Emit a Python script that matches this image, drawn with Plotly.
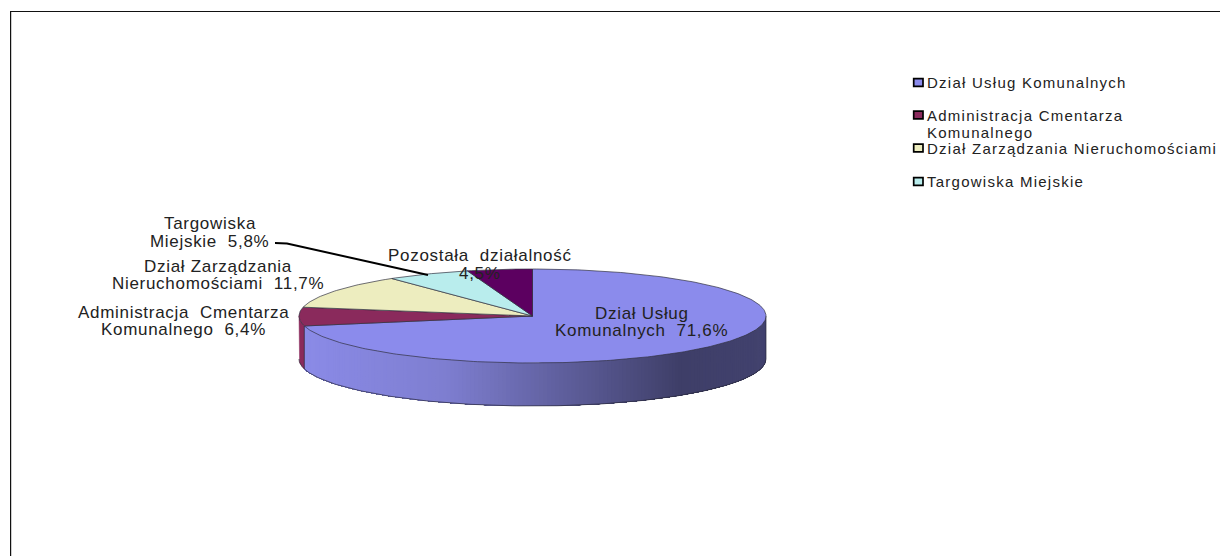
import math
import plotly.graph_objects as go

# ---- data ----
categories = ["Dział Usług Komunalnych", "Administracja Cmentarza Komunalnego",
              "Dział Zarządzania Nieruchomościami", "Targowiska Miejskie", "Pozostała działalność"]
values = [71.6, 6.4, 11.7, 5.8, 4.5]
top_colors = ["#8b8bec", "#8a2a5c", "#ededbf", "#b9eded", "#5c0060"]
label_lines = [["Dział Usług", "Komunalnych\u00a0 71,6%"],
               ["Administracja\u00a0 Cmentarza", "Komunalnego\u00a0 6,4%"],
               ["Dział Zarządzania", "Nieruchomościami\u00a0 11,7%"],
               ["Targowiska", "Miejskie\u00a0 5,8%"],
               ["Pozostała\u00a0 działalność", "4,5%"]]
legend_lines = [["Dział Usług Komunalnych"], ["Administracja Cmentarza", "Komunalnego"],
                ["Dział Zarządzania Nieruchomościami"], ["Targowiska Miejskie"]]

# ---- layout constants ----
W, H = 1220, 556
CX, CY, RX, RY, DEPTH = 532.5, 316, 233.5, 47, 43
FONT = "Liberation Sans"
TEXT = "#222222"
label_x = [641.5, 183, 218, 209.5, 479.5]
label_y = [[313, 330.5], [312, 329], [266, 283], [223.5, 241.5], [255.5, 273.5]]
legend_sq_y = [82.5, 115, 148, 181.5]
legend_y = [[82.5], [115, 132], [148], [181.5]]


def px(theta):
    return CX + RX * math.sin(math.radians(theta))


def py(theta):
    return CY - RY * math.cos(math.radians(theta))


def arc(a, b, step=1.0):
    n = max(2, int(abs(b - a) / step) + 1)
    return [a + (b - a) * i / (n - 1) for i in range(n)]


def side_color(x):
    t = (x - (CX - RX)) / (2 * RX)
    stops = [(0, (139, 139, 232)), (0.32, (126, 126, 208)), (0.64, (86, 86, 142)),
             (0.82, (62, 62, 104)), (1, (66, 66, 110))]
    for (t0, c0), (t1, c1) in zip(stops, stops[1:]):
        if t <= t1:
            k = (t - t0) / (t1 - t0)
            return "rgb(%d,%d,%d)" % tuple(round(p + (q - p) * k) for p, q in zip(c0, c1))
    return "rgb(66,66,110)"


fig = go.Figure()

# slice angles, clockwise from 12 o'clock
total = sum(values)
edges = [0.0]
for v in values:
    edges.append(edges[-1] + v / total * 360)

# side wall of the first slice: painted right to left, each layer covering everything further left
for a in arc(90, edges[1], 1.0)[:-1]:
    th = arc(a, edges[1], 3.0)
    xs = [px(t) for t in th] + [px(t) for t in reversed(th)]
    ys = [py(t) for t in th] + [py(t) + DEPTH for t in reversed(th)]
    col = side_color(px(a))
    fig.add_trace(go.Scatter(x=xs, y=ys, mode="none", fill="toself", fillcolor=col,
                             hoverinfo="skip", showlegend=False))

# side wall of the second slice, visible as far as the leftmost point
th = arc(edges[1], 270)
fig.add_trace(go.Scatter(x=[px(t) for t in th] + [px(t) for t in reversed(th)],
                         y=[py(t) for t in th] + [py(t) + DEPTH for t in reversed(th)],
                         mode="lines", fill="toself", fillcolor=top_colors[1],
                         line=dict(color=top_colors[1], width=0.5), hoverinfo="skip", showlegend=False))

# outline of the wall bottom
th = arc(90, 270)
fig.add_trace(go.Scatter(x=[px(t) for t in th], y=[py(t) + DEPTH for t in th], mode="lines",
                         line=dict(color="#2a2a3a", width=0.7), hoverinfo="skip", showlegend=False))
for t in (90, edges[1]):
    fig.add_trace(go.Scatter(x=[px(t), px(t)], y=[py(t), py(t) + DEPTH], mode="lines",
                             line=dict(color="#2a2a3a", width=0.7), hoverinfo="skip", showlegend=False))

# top faces
for i, name in enumerate(categories):
    th = arc(edges[i], edges[i + 1])
    fig.add_trace(go.Scatter(x=[CX] + [px(t) for t in th] + [CX],
                             y=[CY] + [py(t) for t in th] + [CY],
                             mode="lines", fill="toself", fillcolor=top_colors[i],
                             line=dict(color="#303040", width=0.7),
                             name=name, text=f"{name}: {values[i]}%".replace(".", ","),
                             hoverinfo="text", showlegend=False))

# leader line of the Targowiska label
fig.add_trace(go.Scatter(x=[275, 287, 428], y=[243, 243.5, 275], mode="lines",
                         line=dict(color="#000000", width=2), hoverinfo="skip", showlegend=False))


def spaced(text, spacing):
    return f'<span style="letter-spacing:{spacing}px">{text}</span>'


annotations = []
for lines, x, ys in zip(label_lines, label_x, label_y):
    for line, y in zip(lines, ys):
        annotations.append(dict(x=x, y=y, text=spaced(line, 0.7), xref="x", yref="y", showarrow=False,
                                xanchor="center", yanchor="middle",
                                font=dict(family=FONT, size=17, color=TEXT)))

shapes = [
    dict(type="line", xref="x", yref="y", x0=11.5, x1=11.5, y0=12, y1=H, line=dict(color="#cccccc", width=1)),
    dict(type="line", xref="x", yref="y", x0=10.5, x1=10.5, y0=11, y1=H, line=dict(color="#111111", width=1)),
    dict(type="line", xref="x", yref="y", x0=10, x1=W, y0=11.5, y1=11.5, line=dict(color="#111111", width=1)),
]

for i, lines in enumerate(legend_lines):
    sq = legend_sq_y[i]
    shapes.append(dict(type="rect", xref="x", yref="y", x0=913.7, x1=923, y0=sq - 3.8, y1=sq + 3.8,
                       fillcolor=top_colors[i], line=dict(color="#000000", width=1.7)))
    for line, y in zip(lines, legend_y[i]):
        annotations.append(dict(x=925, y=y, text=spaced(line, 1.25), xref="x", yref="y", showarrow=False,
                                xanchor="left", yanchor="middle",
                                font=dict(family=FONT, size=15, color=TEXT)))

fig.update_layout(width=W, height=H, autosize=False, margin=dict(l=0, r=0, t=0, b=0),
                  paper_bgcolor="white", plot_bgcolor="white", showlegend=False,
                  xaxis=dict(range=[0, W], visible=False, fixedrange=True),
                  yaxis=dict(range=[H, 0], visible=False, fixedrange=True),
                  annotations=annotations, shapes=shapes)

fig.write_html("out.html", config=dict(displayModeBar=False),
               post_script="document.body.style.margin='0';document.body.style.overflow='hidden';")
